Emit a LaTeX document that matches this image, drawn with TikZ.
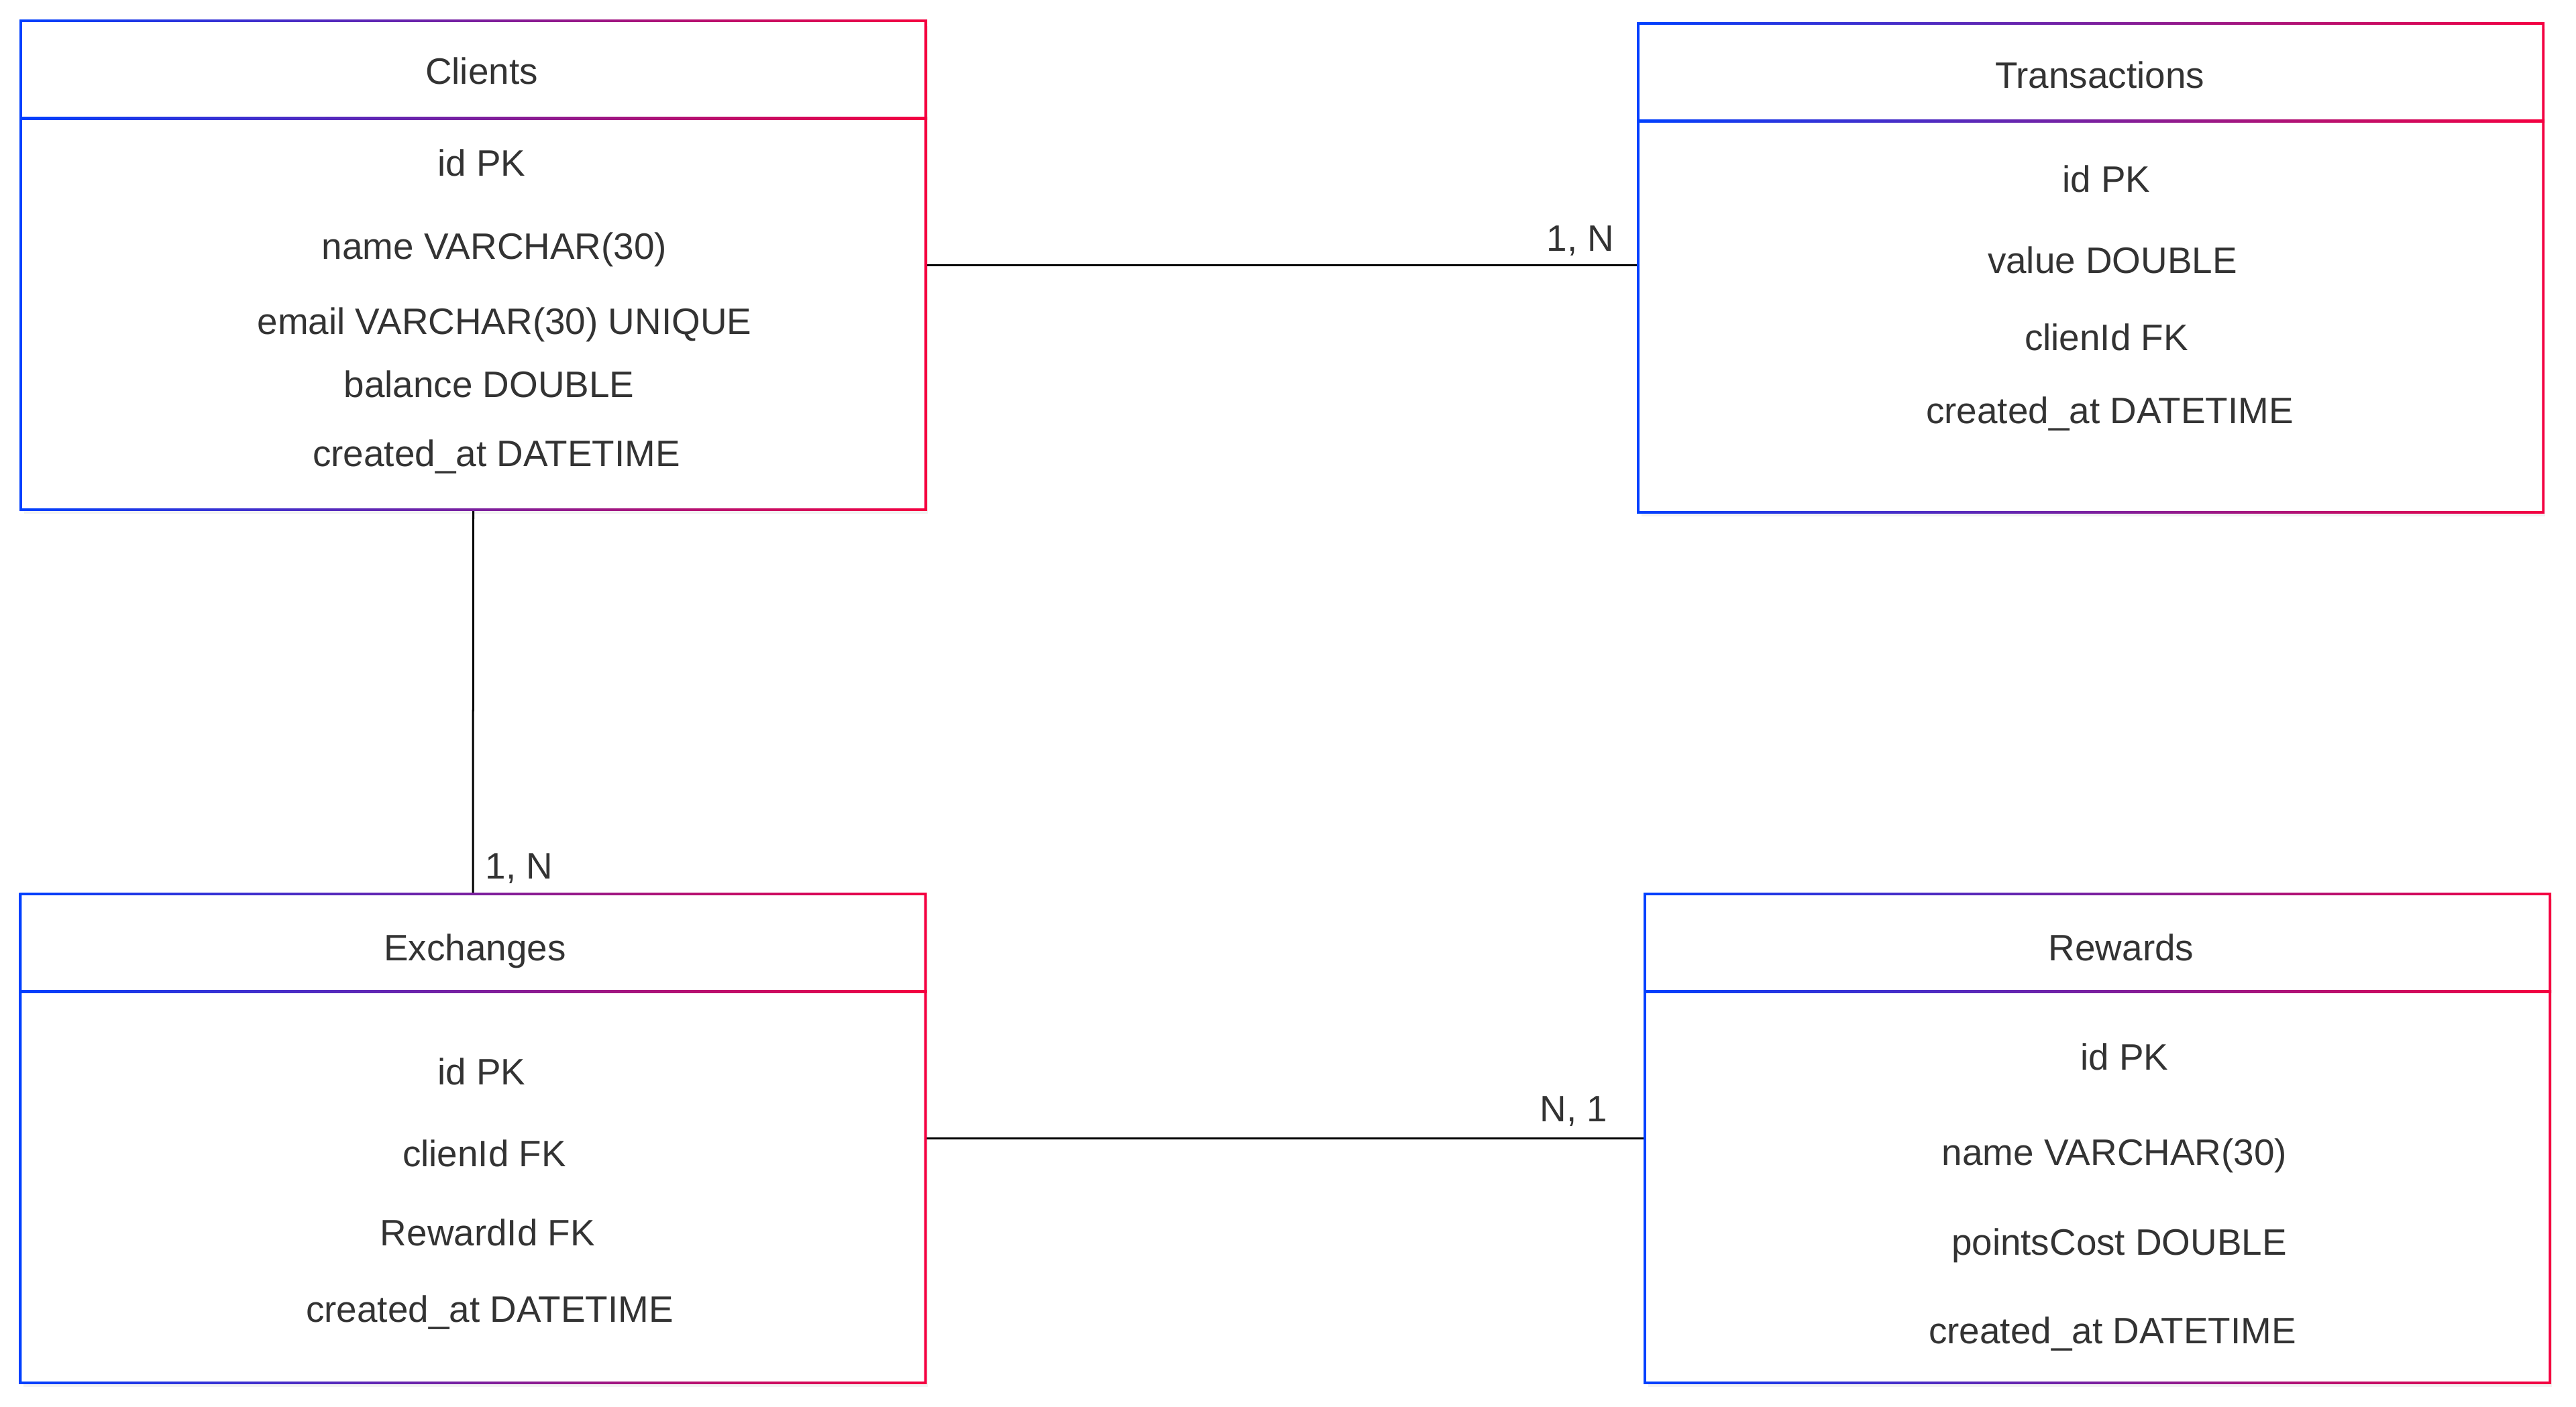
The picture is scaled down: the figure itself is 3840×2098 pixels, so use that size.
\documentclass[tikz,border=0pt]{standalone}
\usepackage{fontspec}
\setmainfont{Liberation Sans}
\usetikzlibrary{shadows}

\definecolor{erblue}{RGB}{0,64,255}
\definecolor{erred}{RGB}{245,0,64}
\definecolor{ertext}{RGB}{51,51,51}

\begin{document}
\begin{tikzpicture}[
    x=0.01cm, y=-0.01cm,
    entity/.style={rectangle, fill=white, inner sep=0pt, minimum width=13.47cm, minimum height=7.27cm,
        drop shadow={opacity=0.1, shadow xshift=0.04cm, shadow yshift=-0.07cm}},
    headtext/.style={font=\fontsize{15.6}{18}\selectfont, text=ertext, anchor=base, yshift=-0.19cm},
    attrtext/.style={headtext},
    cardtext/.style={font=\fontsize{15.6}{18}\selectfont, text=ertext, anchor=base, yshift=-0.19cm},
    link/.style={draw=black, line width=0.03cm}
]
\fill[white] (0,0) rectangle (3840,2098);
\useasboundingbox (0,0) rectangle (3840,2098);

% entities
\node[entity] (clients) at (705.5,395.5) {};
\node[entity] (transactions) at (3116.5,399.5) {};
\node[entity] (exchanges) at (705,1697.5) {};
\node[entity] (rewards) at (3126.5,1697.5) {};

% relations
\draw[link] (clients.east) -- (clients.east -| transactions.west);
\draw[link] (clients.south) -- (exchanges.north);
\draw[link] (exchanges.east) -- (rewards.west);

% gradient frames and header rules
\foreach \e in {clients, transactions, exchanges, rewards} {
  \shade[left color=erblue, right color=erred, even odd rule]
    ([shift={(-0.019cm,-0.019cm)}]\e.south west) rectangle ([shift={(0.019cm,0.019cm)}]\e.north east)
    ([shift={(0.019cm,0.019cm)}]\e.south west) rectangle ([shift={(-0.019cm,-0.019cm)}]\e.north east);
  \shade[left color=erblue, right color=erred]
    ([shift={(-0.019cm,-1.431cm)}]\e.north west) rectangle ([shift={(0.019cm,-1.469cm)}]\e.north east);
}

% Clients
\node[headtext] (clientsTitle) at (718,107) {Clients};
\node[attrtext] (clientsId) at (718,243) {id PK};
\node[attrtext] (clientsName) at (737,367) {name VARCHAR(30)};
\node[attrtext] (clientsEmail) at (752,479) {email VARCHAR(30) UNIQUE};
\node[attrtext] (clientsBalance) at (729,573) {balance DOUBLE};
\node[attrtext] (clientsCreated) at (740,676) {created\_at DATETIME};

% Transactions
\node[headtext] (transTitle) at (3130,113) {Transactions};
\node[attrtext] (transId) at (3140,267) {id PK};
\node[attrtext] (transValue) at (3149,388) {value DOUBLE};
\node[attrtext] (transClient) at (3140,503) {clienId FK};
\node[attrtext] (transCreated) at (3145,612) {created\_at DATETIME};

% Exchanges
\node[headtext] (exchTitle) at (708,1413) {Exchanges};
\node[attrtext] (exchId) at (718,1598) {id PK};
\node[attrtext] (exchClient) at (722,1720) {clienId FK};
\node[attrtext] (exchReward) at (727,1838) {RewardId FK};
\node[attrtext] (exchCreated) at (730,1952) {created\_at DATETIME};

% Rewards
\node[headtext] (rewTitle) at (3162,1413) {Rewards};
\node[attrtext] (rewId) at (3167,1576) {id PK};
\node[attrtext] (rewName) at (3152,1718) {name VARCHAR(30)};
\node[attrtext] (rewCost) at (3159,1852) {pointsCost DOUBLE};
\node[attrtext] (rewCreated) at (3149,1984) {created\_at DATETIME};

% cardinalities
\node[cardtext] (cardTrans) at (2356,355) {1, N};
\node[cardtext] (cardExch) at (774,1291) {1, N};
\node[cardtext] (cardRew) at (2346,1653) {N, 1};
\end{tikzpicture}
\end{document}
